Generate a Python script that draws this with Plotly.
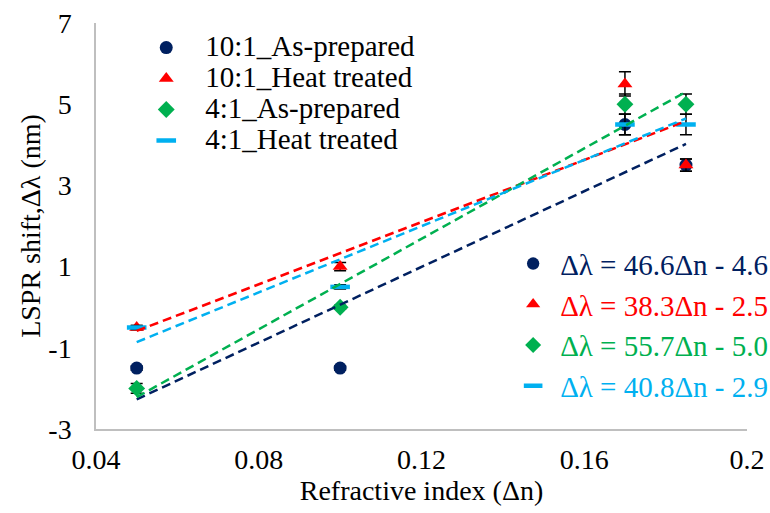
import plotly.graph_objects as go

# ---------------- data ----------------
x_vals = [0.05, 0.10, 0.17, 0.185]

series_names = ["10:1_As-prepared", "10:1_Heat treated", "4:1_As-prepared", "4:1_Heat treated"]
y_101_as = [-1.5, -1.5, 4.5, 3.5]
y_101_ht = [-0.5, 1.0, 5.5, 3.5]
y_41_as = [-2.0, 0.0, 5.0, 5.0]
y_41_ht = [-0.5, 0.5, 4.5, 4.5]

err_101_as = [0.05, 0.05, 0.25, 0.15]
err_101_ht = [0.05, 0.10, 0.30, 0.15]
err_41_as = [0.12, 0.05, 0.25, 0.25]
err_41_ht = [0.05, 0.05, 0.25, 0.25]

fit_slopes = [46.6, 38.3, 55.7, 40.8]
fit_intercepts = [-4.6, -2.5, -5.0, -2.9]
equation_labels = ["Δλ = 46.6Δn - 4.6", "Δλ = 38.3Δn - 2.5",
                   "Δλ = 55.7Δn - 5.0", "Δλ = 40.8Δn - 2.9"]

x_tick_vals = [0.04, 0.08, 0.12, 0.16, 0.2]
x_tick_text = ["0.04", "0.08", "0.12", "0.16", "0.2"]
y_tick_vals = [-3, -1, 1, 3, 5, 7]
y_tick_text = ["-3", "-1", "1", "3", "5", "7"]

# ---------------- styles ----------------
colors = ["#002060", "#FF0000", "#00B050", "#00B0F0"]
symbols = ["circle", "triangle-up", "diamond", "line-ew"]
sizes = [13, 13, 13, 14]
FONT = "Liberation Serif"

ys = [y_101_as, y_101_ht, y_41_as, y_41_ht]
errs = [err_101_as, err_101_ht, err_41_as, err_41_ht]


def marker_style(i, scale=1.0):
    s = sizes[i] * scale
    if symbols[i] == "line-ew":
        return dict(symbol="line-ew", size=s, color=colors[i],
                    line=dict(color=colors[i], width=4.5))
    return dict(symbol=symbols[i], size=s, color=colors[i],
                line=dict(width=0))


fig = go.Figure()

# data points with error bars
for i in range(4):
    fig.add_trace(go.Scatter(
        x=x_vals, y=ys[i], mode="markers",
        name=f'<span style="font-size:29px">{series_names[i]}</span>',
        marker=marker_style(i),
        error_y=dict(type="data", array=errs[i], visible=True,
                     color="black", thickness=1.5, width=6),
        legend="legend",
        hoverinfo="x+y",
    ))

# linear trend lines from the fitted equations
x_lo, x_hi = min(x_vals), max(x_vals)
for i in range(4):
    fx = [x_lo, x_hi]
    fy = [fit_slopes[i] * v + fit_intercepts[i] for v in fx]
    fig.add_trace(go.Scatter(
        x=fx, y=fy, mode="lines", showlegend=False,
        line=dict(color=colors[i], width=2.5, dash="9px,5px"),
        hoverinfo="skip",
    ))

# equation legend entries
for i in range(4):
    fig.add_trace(go.Scatter(
        x=[None], y=[None], mode="markers",
        name=f'<span style="color:{colors[i]}">{equation_labels[i]}</span>',
        marker=marker_style(i, 0.95), legend="legend2",
    ))

fig.update_layout(
    width=770, height=513,
    margin=dict(l=96, r=23, t=23, b=84, autoexpand=False),
    paper_bgcolor="white", plot_bgcolor="white",
    font=dict(family=FONT, size=28, color="black"),
    showlegend=True,
    legend=dict(
        x=0.048, y=0.990, xanchor="left", yanchor="top",
        bgcolor="rgba(0,0,0,0)", borderwidth=0,
        font=dict(family=FONT, size=21.5, color="black"),
        itemwidth=68, tracegroupgap=0,
    ),
    legend2=dict(
        x=0.630, y=0.470, xanchor="left", yanchor="top",
        bgcolor="rgba(0,0,0,0)", borderwidth=0,
        font=dict(family=FONT, size=29, color="black"),
        itemwidth=44, tracegroupgap=0,
    ),
    xaxis=dict(
        range=[0.04, 0.2], tickvals=x_tick_vals, ticktext=x_tick_text,
        showgrid=False, zeroline=False, showline=True,
        linecolor="#BFBFBF", linewidth=1.5, ticks="",
        ticklabelstandoff=5, automargin=False,
        tickfont=dict(family=FONT, size=28, color="black"),
        title=dict(text="Refractive index (Δn)", standoff=3,
                   font=dict(family=FONT, size=28, color="black")),
    ),
    yaxis=dict(
        range=[-3, 7], tickvals=y_tick_vals, ticktext=y_tick_text,
        showgrid=False, zeroline=False, showline=True,
        linecolor="#BFBFBF", linewidth=1.5, ticks="",
        ticklabelstandoff=17, automargin=False,
        tickfont=dict(family=FONT, size=28, color="black"),
        title=dict(text="LSPR shift,Δλ (nm)", standoff=0,
                   font=dict(family=FONT, size=28, color="black")),
    ),
)

fig.write_html("out.html", config={"displayModeBar": False},
               post_script="document.body.style.margin='0';")
